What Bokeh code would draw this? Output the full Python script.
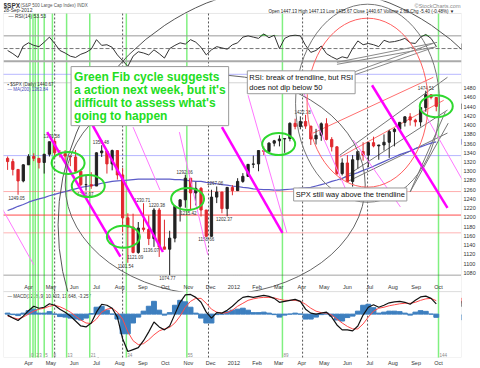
import numpy as np
import pandas as pd
from bokeh.plotting import figure
from bokeh.models import Range1d, FixedTicker, BoxAnnotation, Label, ColumnDataSource
from bokeh.embed import file_html
from bokeh.resources import INLINE
from bokeh.core.properties import value

FONT = "Liberation Sans"

# ---------------- data (weekly samples) ----------------
weeks = pd.date_range("2011-03-04", "2012-09-28", freq="W-FRI")

opens = [1328, 1321, 1304, 1279, 1314, 1332, 1328, 1319, 1337, 1365,
         1340, 1338, 1333, 1331, 1300, 1271, 1271, 1268, 1340, 1344,
         1316, 1345, 1292, 1199, 1179, 1124, 1177, 1174, 1154, 1216,
         1136, 1131, 1155, 1224, 1238, 1285, 1253, 1263, 1216, 1159,
         1244, 1255, 1219, 1265, 1258, 1278, 1289, 1315, 1316, 1345,
         1343, 1361, 1366, 1370, 1371, 1404, 1397, 1408, 1398, 1370,
         1378, 1403, 1369, 1353, 1295, 1318, 1278, 1325, 1343, 1335,
         1362, 1355, 1357, 1363, 1386, 1391, 1406, 1418, 1411, 1407,
         1438, 1466, 1460]
highs = [1332, 1327, 1303, 1315, 1337, 1339, 1329, 1337, 1364, 1370.58,
         1346, 1346, 1334, 1346, 1300, 1292, 1298, 1341, 1356.48, 1344,
         1347, 1345, 1307, 1209, 1208, 1190, 1230.71, 1204, 1220, 1220.38,
         1195, 1171, 1224, 1239, 1292.66, 1285, 1277, 1266, 1215, 1260,
         1267.06, 1255, 1266, 1270, 1285, 1296, 1315, 1334, 1345, 1354,
         1363, 1368, 1378, 1372, 1406, 1414, 1419, 1422.38, 1394, 1392,
         1406, 1415, 1374, 1354, 1328, 1335, 1335, 1343, 1363, 1363,
         1375, 1357, 1380, 1390, 1394, 1407, 1419, 1426, 1414, 1438,
         1474.51, 1466, 1461]
lows = [1303, 1291, 1249.05, 1276, 1314, 1322, 1306, 1295, 1332, 1329,
        1330, 1318, 1311, 1297, 1268, 1258.07, 1262, 1269, 1331, 1295,
        1302, 1282, 1168, 1101.54, 1122, 1121.09, 1169, 1140, 1136.07, 1114.22,
        1131, 1074.77, 1146, 1191, 1221, 1215.42, 1226, 1202, 1158.66, 1158,
        1231, 1209, 1202.37, 1248, 1258, 1275, 1290, 1307, 1300, 1335,
        1340, 1354, 1354, 1340, 1365, 1391, 1391, 1392, 1357, 1358,
        1366, 1367, 1343, 1292, 1291, 1277, 1266.74, 1306, 1323, 1309,
        1352, 1325, 1345, 1329, 1354, 1391, 1397, 1399, 1397, 1397,
        1429, 1456, 1430]
closes = [1321, 1304, 1279, 1314, 1332, 1328, 1319, 1337, 1364, 1340,
          1338, 1333, 1331, 1300, 1271, 1271, 1268, 1340, 1344, 1316,
          1345, 1292, 1199, 1179, 1124, 1177, 1174, 1154, 1216, 1136,
          1131, 1155, 1224, 1238, 1285, 1253, 1263, 1216, 1159, 1244,
          1255, 1219, 1265, 1258, 1278, 1289, 1315, 1316, 1345, 1343,
          1361, 1366, 1370, 1371, 1404, 1397, 1408, 1398, 1370, 1378,
          1403, 1369, 1353, 1295, 1318, 1278, 1325, 1343, 1335, 1362,
          1355, 1357, 1363, 1386, 1391, 1406, 1418, 1411, 1407, 1438,
          1466, 1460, 1440.67]
ma200 = [1215, 1219, 1224, 1228, 1233, 1237, 1240, 1243, 1247, 1250,
         1253, 1256, 1259, 1262, 1265, 1267, 1269, 1271, 1274, 1276,
         1278, 1279, 1280, 1281, 1282, 1283, 1283, 1283, 1283, 1283,
         1283, 1283, 1282, 1282, 1281, 1279, 1278, 1278, 1276, 1275,
         1273, 1271, 1270, 1268, 1267, 1265, 1264, 1262, 1261, 1260,
         1260, 1259, 1259, 1260, 1261, 1262, 1263, 1264, 1265, 1268,
         1271, 1274, 1278, 1281, 1285, 1289, 1293, 1297, 1302, 1306,
         1311, 1316, 1321, 1326, 1331, 1336, 1340, 1344, 1349, 1353,
         1357, 1361, 1363.84]
rsi14 = [47, 42, 36, 54, 59, 55, 53, 60, 68, 58,
         47, 43, 38, 36, 41, 44, 49, 64, 55, 56,
         52, 40, 31, 22, 38, 45, 43, 40, 48, 42,
         35, 50, 55, 59, 57, 64, 60, 52, 40, 48,
         53, 51, 49, 56, 59, 68, 70, 68, 66, 73,
         67, 71, 50, 66, 70, 71, 70, 55, 44, 47,
         54, 42, 37, 33, 37, 35, 50, 62, 56, 58,
         56, 53, 63, 60, 61, 63, 66, 59, 58, 68,
         72, 66, 53.53]
macd_line = [-1, -4, -6.5, -2, 3.5, 8, 6, 7, 10.5, 9,
             5, 2, -2, -7, -12, -13, -9, 2, 10, 9,
             6, -3, -25, -38, -36, -34, -27, -18, -8, -13,
             -16, -12, 0, 12, 19.5, 20, 17, 12, 2, -4,
             1.5, 1, 4, 8, 13, 17, 18, 17, 18, 19,
             18, 16, 12, 13, 14, 15, 13, 5, 1, 0,
             1, 2, -3, -11, -16, -16, -17, -12, -1, 7,
             9.5, 7, 9, 11.5, 12.5, 13, 12, 10, 14, 17.5,
             18.3, 16, 10.403]
macd_signal = [-2, -3.5, -5, -3, 0, 3, 5, 6, 8, 9,
               7.5, 5, 2, -2, -6, -9, -9.5, -5, 2, 5,
               6, 2, -5, -18, -27, -31, -30, -26, -21, -17,
               -15, -13.5, -9, -2, 7, 13, 16, 16, 11, 5,
               2, 1, 1.5, 4, 8, 11, 14, 15.5, 16.5, 17,
               17, 16.5, 15, 14, 14, 14, 13, 10, 6, 3,
               1.5, 1, -1, -5, -9, -12.5, -15, -15, -10, -3,
               3, 6, 7, 8.5, 9.5, 10.5, 11, 11, 12, 14,
               15.5, 16, 13.648]
macd_hist = [m - s for m, s in zip(macd_line, macd_signal)]

# Fibonacci time cycle (green verticals)
fib_numbers = [0, 1, 2, 3, 5, 8, 13, 21, 34, 55, 89, 144]
fib_dates = pd.to_datetime(["2011-04-03", "2011-04-07", "2011-04-10", "2011-04-14",
                            "2011-04-22", "2011-05-03", "2011-05-22", "2011-06-22",
                            "2011-08-10", "2011-10-30", "2012-03-06", "2012-10-01"])
marker_dates = pd.to_datetime(["2011-05-06", "2011-08-05", "2011-11-28",
                               "2012-04-02", "2012-06-28"])

# horizontal levels in the price panel
level_prices = [1334, 1256, 1205, 1166.5, 1074.77]
level_colors = ["#6a6aff", "#ff5a5a", "#ff3030", "#ff6a6a", "#444444"]
level_widths = [1, 1, 1.6, 1, 1]

# price call-outs
call_dates = pd.to_datetime(["2011-03-16", "2011-05-02", "2011-06-16", "2011-07-07",
                             "2011-08-09", "2011-08-22", "2011-08-31", "2011-09-12",
                             "2011-09-20", "2011-10-04", "2011-10-27", "2011-11-01",
                             "2011-11-25", "2011-12-07", "2011-12-19", "2012-04-02",
                             "2012-06-04", "2012-09-14"])
call_prices = [1249.05, 1370.58, 1258.07, 1356.48, 1101.54, 1121.09, 1230.71, 1136.07,
               1220.38, 1074.77, 1292.66, 1215.42, 1158.66, 1267.06, 1202.37, 1422.38,
               1266.74, 1474.51]
call_is_high = [False, True, False, True, False, False, True, False,
                True, False, True, False, False, True, False, True, False, True]

# month axis labels
month_starts = pd.date_range("2011-04-01", "2012-10-01", freq="MS")
month_labels = ["2012" if d.month == 1 else d.strftime("%b") for d in month_starts]

price_ticks = list(range(1080, 1500, 20))
rsi_ticks = [90, 70, 50, 30, 10]
macd_ticks = [20, 10, 0, -10, -20, -30, -40]

# hand-drawn chart annotations (dates / prices)
green_circle_dates = pd.to_datetime(["2011-05-24", "2011-06-20", "2011-08-06",
                                     "2011-10-31", "2012-03-01", "2012-09-28"])
green_circle_prices = [1318, 1268, 1158, 1240, 1359, 1441]

thick_x0 = pd.to_datetime(["2011-04-26", "2011-06-20", "2011-12-16", "2012-07-04"])
thick_y0 = [1385, 1417, 1395.7, 1486.5]
thick_x1 = pd.to_datetime(["2011-08-02", "2011-09-28", "2012-03-06", "2012-10-13"])
thick_y1 = [1115, 1125, 1166.5, 1220.6]

thin_x0 = pd.to_datetime(["2011-02-22", "2011-08-19", "2011-10-20", "2012-01-20",
                          "2012-03-30", "2012-06-09", "2012-09-10"])
thin_y0 = [1227, 1395.7, 1384.9, 1464.9, 1486.5, 1367.6, 1432.4]
thin_x1 = pd.to_datetime(["2011-04-08", "2011-09-24", "2011-11-27", "2012-03-12",
                          "2012-06-05", "2012-08-11", "2012-11-02"])
thin_y1 = [1097.3, 1259.5, 1118.9, 1166.5, 1237.9, 1222.7, 1281]

fan_x0 = pd.to_datetime(["2012-05-22", "2012-05-22", "2012-05-31", "2012-08-24", "2012-08-24"])
fan_y0 = [1335.1, 1280.9, 1276.8, 1255.2, 1255.2]
fan_x1 = pd.to_datetime(["2012-10-13", "2012-10-13", "2012-10-13", "2012-10-10", "2012-10-14"])
fan_y1 = [1503.8, 1432.7, 1382.9, 1428.1, 1404.3]
red_fan_x0 = pd.to_datetime(["2012-04-16", "2012-05-22"])
red_fan_y0 = [1382.7, 1330.8]
red_fan_x1 = pd.to_datetime(["2012-09-24", "2012-10-08"])
red_fan_y1 = [1503.8, 1454]

rsi_tl_x0 = pd.to_datetime(["2012-05-18", "2012-05-18", "2012-06-09", "2012-06-09"])
rsi_tl_y0 = [28.4, 25.2, 12.7, 8]
rsi_tl_x1 = pd.to_datetime(["2012-09-29", "2012-09-24", "2012-09-24", "2012-09-29"])
rsi_tl_y1 = [59.7, 51.9, 58.2, 53.5]

# ---------------- figure ----------------
x_start = pd.Timestamp("2011-02-26 12:00")
x_end = pd.Timestamp("2012-10-31 19:00")
p = figure(width=480, height=368, x_axis_type="datetime", y_axis_location="right",
           x_range=Range1d(x_start, x_end), y_range=Range1d(896.2, 1670.3),
           toolbar_location=None, output_backend="svg",
           min_border_left=3, min_border_right=19, min_border_top=0, min_border_bottom=10)
p.extra_y_ranges = {"rsi": Range1d(-436.0, 125.6), "macd": Range1d(-44.05, 318.5)}
p.grid.visible = False
p.outline_line_color = None
p.background_fill_color = "white"
p.border_fill_color = "white"

# panel frames
p.add_layout(BoxAnnotation(top=105.2, bottom=-3.8, y_range_name="rsi", fill_alpha=0,
                           line_color="#b0b0b0", line_width=1))
p.add_layout(BoxAnnotation(top=1491.9, bottom=1038.9, fill_alpha=0,
                           line_color="#b0b0b0", line_width=1))

# fib cycle and marker verticals
nf, nm = len(fib_dates), len(marker_dates)
p.segment(x0=fib_dates, y0=[105.2] * nf, x1=fib_dates, y1=[-436] * nf,
          y_range_name="rsi", line_color="#80f080", line_width=1.5)
p.segment(x0=marker_dates, y0=[105.2] * nm, x1=marker_dates, y1=[-436] * nm,
          y_range_name="rsi", line_color="#555555", line_width=1, line_dash="2 2")

# ---- RSI panel
for lv, col, w, dash in [(70, "#999999", 1, "solid"), (30, "#aaaaaa", 2, "solid"),
                         (50, "#777777", 1, "4 2"), (9.5, "#7070ff", 1, "1 1")]:
    p.segment(x0=[x_start], y0=[lv], x1=[x_end], y1=[lv], y_range_name="rsi",
              line_color=col, line_width=w, line_dash=dash)
rsi_arr = np.array(rsi14)
p.varea(x=weeks, y1=[70] * len(weeks), y2=np.maximum(rsi_arr, 70), y_range_name="rsi",
        fill_color="#44cc44")
p.line(weeks, rsi14, y_range_name="rsi", line_color="#333333", line_width=1)
p.segment(x0=rsi_tl_x0, y0=rsi_tl_y0, x1=rsi_tl_x1, y1=rsi_tl_y1, y_range_name="rsi",
          line_color="#8a8a8a", line_width=1)

# ---- price panel
for lv, col, w in zip(level_prices, level_colors, level_widths):
    p.segment(x0=[x_start], y0=[lv], x1=[x_end], y1=[lv], line_color=col, line_width=w,
              line_dash="1 1")

up = [c >= o for o, c in zip(opens, closes)]
src = ColumnDataSource(dict(
    date=weeks, h=highs, l=lows,
    top=[max(o, c) for o, c in zip(opens, closes)],
    bot=[min(o, c) for o, c in zip(opens, closes)],
    color=["#222222" if u else "#e0282e" for u in up]))
p.segment(x0=fan_x0, y0=fan_y0, x1=fan_x1, y1=fan_y1, line_color="#777777", line_width=1)
p.segment(x0=red_fan_x0, y0=red_fan_y0, x1=red_fan_x1, y1=red_fan_y1,
          line_color="#ff7070", line_width=1)
p.line(weeks, ma200, line_color="#5b5bc8", line_width=1.2)
p.segment("date", "h", "date", "l", source=src, line_color="color", line_width=1)
p.vbar(x="date", width=3.0 * 86400000, top="top", bottom="bot", source=src,
       fill_color="color", line_color="color")

p.text(x=call_dates, y=call_prices, text=[f"{v:.2f}" for v in call_prices],
       text_font=value(FONT), text_font_size="4.5px", text_color="#333333",
       text_align="center",
       text_baseline=["bottom" if hi else "top" for hi in call_is_high],
       y_offset=[-1 if hi else 1 for hi in call_is_high])

# magenta channel lines
p.segment(x0=thin_x0, y0=thin_y0, x1=thin_x1, y1=thin_y1, line_color="#ff77ff", line_width=1)
p.segment(x0=thick_x0, y0=thick_y0, x1=thick_x1, y1=thick_y1, line_color="#ff00ff",
          line_width=2.5)

# big circles
p.ellipse(x=[pd.Timestamp("2012-03-27")], y=[1183.8], width=480, height=480,
          width_units="screen", height_units="screen", fill_alpha=0,
          line_color="#555555", line_width=1)
p.ellipse(x=[pd.Timestamp("2011-12-07")], y=[1270.3], width=300, height=220,
          width_units="screen", height_units="screen", fill_alpha=0,
          line_color="#666666", line_width=1)
p.ellipse(x=[pd.Timestamp("2012-06-28")], y=[1447.6], width=144, height=198,
          width_units="screen", height_units="screen", fill_alpha=0,
          line_color="#777777", line_width=1)
p.ellipse(x=[pd.Timestamp("2012-06-28")], y=[1448.7], width=121, height=169,
          width_units="screen", height_units="screen", fill_alpha=0,
          line_color="#ff6060", line_width=1)
p.ellipse(x=green_circle_dates, y=green_circle_prices, width=33, height=22,
          width_units="screen", height_units="screen", fill_alpha=0,
          line_color="#2fd82f", line_width=2)

# month labels inside price panel
p.text(x=month_starts, y=[1049.8] * len(month_starts), text=month_labels,
       text_font=value(FONT), text_font_size="5.5px", text_color="#333333",
       text_align="center", text_baseline="middle")

# ---- MACD panel (drawn above a white panel so the big arcs stop at the price panel)
p.add_layout(BoxAnnotation(top=22.8, bottom=-44.05, y_range_name="macd", fill_color="white",
                           fill_alpha=1, line_color="#b0b0b0", line_width=1))
p.segment(x0=fib_dates, y0=[22.8] * nf, x1=fib_dates, y1=[-44.05] * nf, y_range_name="macd",
          line_color="#80f080", line_width=1.5, level="overlay")
p.segment(x0=marker_dates, y0=[22.8] * nm, x1=marker_dates, y1=[-44.05] * nm,
          y_range_name="macd", line_color="#555555", line_width=1, line_dash="2 2",
          level="overlay")
p.vbar(x=weeks, width=6.5 * 86400000, top=macd_hist, bottom=0, y_range_name="macd",
       fill_color="#3d7fbf", line_color="#3d7fbf", level="overlay")
p.line(weeks, macd_signal, y_range_name="macd", line_color="#ff4a4a", line_width=1,
       level="overlay")
p.line(weeks, macd_line, y_range_name="macd", line_color="#111111", line_width=1.2,
       level="overlay")

for d, n in zip(fib_dates, fib_numbers):
    if n == 1:
        continue
    p.add_layout(Label(x=d, y=-42, y_range_name="macd", text=str(n), x_offset=1,
                       text_font=FONT, text_font_size="4.5px", text_color="#888888",
                       text_baseline="middle", level="overlay"))

# ---------------- axes ----------------
p.yaxis.ticker = FixedTicker(ticks=price_ticks)
p.xaxis.ticker = FixedTicker(ticks=[int(d.value // 10**6) for d in month_starts])
p.xaxis.major_label_overrides = {int(d.value // 10**6): t for d, t in zip(month_starts, month_labels)}
for ax in (p.xaxis, p.yaxis):
    ax.axis_line_color = None
    ax.major_tick_line_color = None
    ax.minor_tick_line_color = None
    ax.major_tick_out = 0
    ax.major_tick_in = 0
    ax.minor_tick_out = 0
    ax.major_label_standoff = 2
    ax.major_label_text_font = FONT
    ax.major_label_text_font_size = "5.5px"
    ax.major_label_text_color = "#333333"

def side_label(y, text, rng):
    p.add_layout(Label(x=x_end, y=y, y_range_name=rng, text=text, x_offset=2,
                       text_font=FONT, text_font_size="5.5px", text_color="#333333",
                       text_baseline="middle"))

for t in rsi_ticks:
    side_label(t, str(t), "rsi")
for t in macd_ticks:
    side_label(t, str(t), "macd")

def tag(y, text, rng, color):
    p.add_layout(Label(x=x_end, y=y, y_range_name=rng, text=text, x_offset=0,
                       text_font=FONT, text_font_size="4.2px", text_color="#222222",
                       text_baseline="middle", background_fill_color="white",
                       border_line_color=color, border_line_width=1, padding=1))

tag(rsi14[-1], f"{rsi14[-1]:.2f}", "rsi", "#666666")
tag(closes[-1], f"{closes[-1]:.2f}", "default", "#333333")
tag(ma200[-1], f"{ma200[-1]:.2f}", "default", "#5b5bc8")
tag(macd_signal[-1], f"{macd_signal[-1]:.3f}", "macd", "#ff4a4a")
tag(macd_line[-1], f"{macd_line[-1]:.3f}", "macd", "#333333")
tag(macd_hist[-1], f"{macd_hist[-1]:.3f}", "macd", "#3d7fbf")

# ---------------- texts ----------------
def txt(x, y, text, rng="rsi", size="5px", color="#333333", style="normal", align="left", **kw):
    p.add_layout(Label(x=x, y=y, y_range_name=rng, text=text, text_font=FONT,
                       text_font_size=size, text_color=color, text_font_style=style,
                       text_align=align, text_baseline="middle", **kw))

txt(x_start, 118.5, "$SPX", size="6.5px", style="bold", x_offset=0)
txt(x_start, 118.5, "(S&P 500 Large Cap Index) INDX", size="4.5px", color="#555555",
    x_offset=17)
txt(x_start, 109.9, "28-Sep-2012", size="5px", x_offset=0)
txt(x_start, 100.5, "\u2014 RSI(14) 53.53", size="5px", x_offset=5)
txt(x_end, 116.5, "\u00a9StockCharts.com", size="5.5px", color="#888888", align="right",
    x_offset=-1)
txt(x_end, 107.6, "Open 1447.13  High 1447.13  Low 1435.67  Close 1440.67  Volume 2.6B  Chg -5.40 (-0.48%) \u25bc",
    size="4.5px", align="right", x_offset=-1, color="#222222")
txt(x_start, 1488.6, "\u25aa $SPX (Daily) 1440.67", rng="default", size="4.5px", x_offset=4)
txt(x_start, 1476.8, "\u2014 MA(200) 1363.84", rng="default", size="4.5px", x_offset=4,
    color="#4a4ab8")
txt(x_start, 17.7, "\u2014 MACD(12,26,9) 10.403, 13.648, -3.257", rng="macd", size="4.5px",
    x_offset=4)

box_kw = dict(text_font=FONT, background_fill_color="white", border_line_color="#999999",
              border_line_width=1, text_baseline="top", text_align="left")
p.add_layout(Label(x=pd.Timestamp("2011-05-28"), y=1527,
                   text="Green Fib cycle suggests\na action next week, but it's\ndifficult to assess what's\ngoing to happen",
                   text_font_size="12px", text_font_style="bold", text_color="#22dd22",
                   text_line_height=0.93, padding=3, **box_kw))
p.add_layout(Label(x=pd.Timestamp("2012-01-19"), y=1517.8,
                   text="RSI: break of trendline, but RSI\ndoes not dip below 50",
                   text_font_size="7.5px", text_color="#111111", text_line_height=1.1,
                   padding=2, **box_kw))
p.add_layout(Label(x=pd.Timestamp("2012-03-21"), y=1263.8, text="SPX still way above the trendline",
                   text_font_size="7.5px", text_color="#111111", padding=2, **box_kw))

open("out.html", "w").write(file_html(p, INLINE))
